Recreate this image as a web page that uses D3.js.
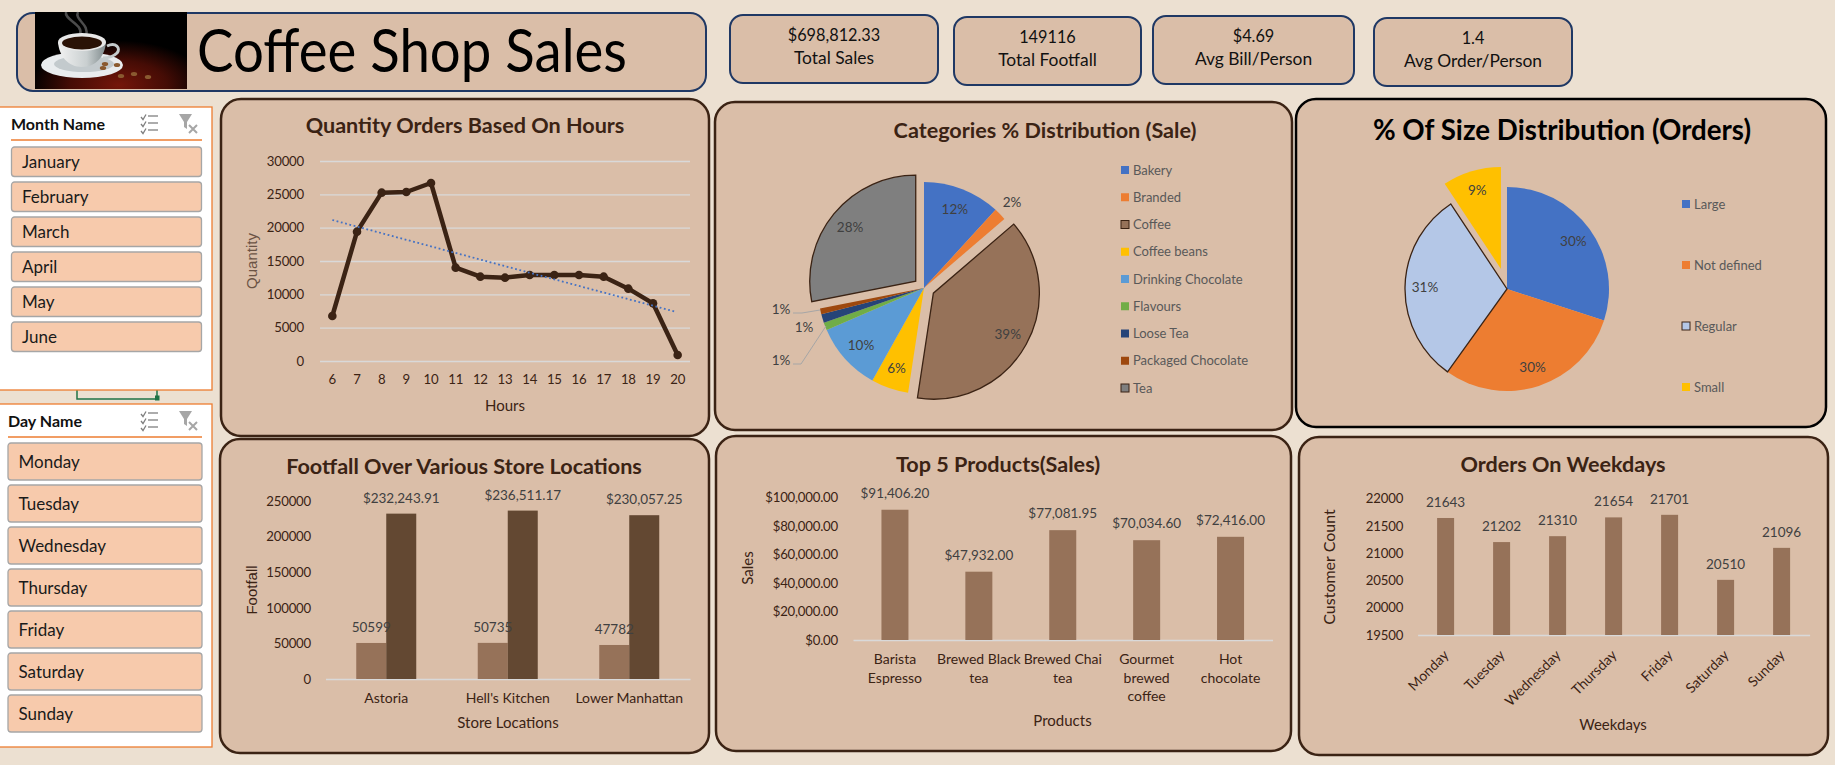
<!DOCTYPE html>
<html>
<head>
<meta charset="utf-8">
<title>Coffee Shop Sales</title>
<script src="https://cdn.jsdelivr.net/npm/d3@7"></script>
<style>
  html, body { margin: 0; padding: 0; background: #ece0d1; }
  svg { display: block; font-family: Lato, "Open Sans", sans-serif; }
  .panel { fill: #dabea8; stroke: #3b2314; stroke-width: 2.5; }
  .kpi { fill: #dabea8; stroke: #1f3864; stroke-width: 2; }
  .axis text { font-size: 14px; fill: #3b2314; font-family: Lato, sans-serif; }
  .axis.num text { font-size: 13.2px; letter-spacing: -0.2px; }
  .axis line, .axis path { stroke: #d9d9d9; stroke-width: 1.3; }
  .title { font-weight: 700; font-size: 21.6px; fill: #3b2314; text-anchor: middle; }
  .axis-title { font-size: 15px; fill: #3b2314; text-anchor: middle; }
  .value { font-size: 13.5px; fill: #404040; text-anchor: middle; }
  .legend { font-size: 13px; fill: #595959; }
</style>
</head>
<body>
<svg id="chart" width="1835" height="765"></svg>
<script>
// kpi strip
var kpiValues = ['$698,812.33', '149116', '$4.69', '1.4'];
var kpiNames = ['Total Sales', 'Total Footfall', 'Avg Bill/Person', 'Avg Order/Person'];

// slicers
var monthNames = ['January', 'February', 'March', 'April', 'May', 'June'];
var dayNames = ['Monday', 'Tuesday', 'Wednesday', 'Thursday', 'Friday', 'Saturday', 'Sunday'];

// quantity by hour
var hours = [6, 7, 8, 9, 10, 11, 12, 13, 14, 15, 16, 17, 18, 19, 20];
var hourQuantity = [6750, 19400, 25250, 25350, 26700, 14000, 12650, 12500, 12900, 12900, 12900, 12650, 10850, 8650, 900];
var trendHours = [6, 19.9];
var trendQuantity = [21150, 7400];
var quantityTicks = [0, 5000, 10000, 15000, 20000, 25000, 30000];

// categories pie
var categoryNames = ['Bakery', 'Branded', 'Coffee', 'Coffee beans', 'Drinking Chocolate', 'Flavours', 'Loose Tea', 'Packaged Chocolate', 'Tea'];
var categoryShare = [11.8, 1.9, 38.7, 5.7, 10.4, 1.2, 1.3, 0.9, 28.1];
var categoryColors = ['#4472c4', '#ed7d31', '#967259', '#ffc000', '#5b9bd5', '#70ad47', '#264478', '#9e480e', '#7f7f7f'];

// size pie
var sizeNames = ['Large', 'Not defined', 'Regular', 'Small'];
var sizeShare = [30.0, 29.9, 30.8, 9.3];
var sizeColors = ['#4472c4', '#ed7d31', '#b4c7e7', '#ffc000'];

// store locations
var storeNames = ['Astoria', "Hell's Kitchen", 'Lower Manhattan'];
var storeFootfall = [50599, 50735, 47782];
var storeSales = [232243.91, 236511.17, 230057.25];
var footfallTicks = [0, 50000, 100000, 150000, 200000, 250000];

// top products
var productNames = ['Barista Espresso', 'Brewed Black tea', 'Brewed Chai tea', 'Gourmet brewed coffee', 'Hot chocolate'];
var productLines = [['Barista', 'Espresso'], ['Brewed Black', 'tea'], ['Brewed Chai', 'tea'], ['Gourmet', 'brewed', 'coffee'], ['Hot', 'chocolate']];
var productSales = [91406.20, 47932.00, 77081.95, 70034.60, 72416.00];
var salesTicks = [0, 20000, 40000, 60000, 80000, 100000];

// weekdays
var weekdayOrders = [21643, 21202, 21310, 21654, 21701, 20510, 21096];
var orderTicks = [19500, 20000, 20500, 21000, 21500, 22000];

var money = d3.format('$,.2f');
var svg = d3.select('#chart');
var BROWN = '#967259', DARK = '#634832', INK = '#3b2314';

function box(x0, y0, x1, y1, cls, r) {
  return svg.append('rect').attr('class', cls)
    .attr('x', x0).attr('y', y0).attr('width', x1 - x0).attr('height', y1 - y0)
    .attr('rx', r).attr('ry', r);
}

function label(g, x, y, text, cls) {
  return g.append('text').attr('class', cls).attr('x', x).attr('y', y).text(text);
}

function vlabel(x, y, text, family) {
  return svg.append('text').attr('class', 'axis-title')
    .attr('transform', 'translate(' + x + ',' + y + ') rotate(-90)')
    .style('font-family', family || null)
    .text(text);
}

// title banner with the cup picture
function banner() {
  box(17, 13, 706, 91, 'kpi', 16);
  var defs = svg.append('defs');
  var glow = defs.append('radialGradient').attr('id', 'glow').attr('cx', 0.55).attr('cy', 0.95).attr('r', 0.58);
  glow.append('stop').attr('offset', '0').attr('stop-color', '#74160a');
  glow.append('stop').attr('offset', '0.55').attr('stop-color', '#450c05');
  glow.append('stop').attr('offset', '1').attr('stop-color', '#000');
  var cupFill = defs.append('linearGradient').attr('id', 'cupFill');
  cupFill.append('stop').attr('offset', '0').attr('stop-color', '#f2f2f2');
  cupFill.append('stop').attr('offset', '0.6').attr('stop-color', '#c9cfd0');
  cupFill.append('stop').attr('offset', '1').attr('stop-color', '#7f8a8c');

  svg.append('rect').attr('x', 35).attr('y', 12).attr('width', 152).attr('height', 77).attr('fill', 'url(#glow)');
  svg.append('path').attr('d', 'M66,12 C64,20 84,24 80,35 M78,12 C74,20 90,24 86,36')
    .attr('fill', 'none').attr('stroke', '#8a8a8a').attr('stroke-width', 2.5).attr('opacity', 0.55);
  svg.append('ellipse').attr('cx', 82).attr('cy', 65).attr('rx', 41).attr('ry', 13).attr('fill', '#e9ecee');
  svg.append('ellipse').attr('cx', 84).attr('cy', 64).attr('rx', 30).attr('ry', 8).attr('fill', '#c3cacd');
  svg.append('path').attr('d', 'M107,46 C116,42 121,48 117,53 C114,56 108,58 103,58')
    .attr('fill', 'none').attr('stroke', '#c5cccd').attr('stroke-width', 3);
  svg.append('path').attr('d', 'M58,42 C59,56 68,67 82,67 C96,67 105,56 106,42 Z').attr('fill', 'url(#cupFill)');
  svg.append('ellipse').attr('cx', 82).attr('cy', 42).attr('rx', 24).attr('ry', 9).attr('fill', '#e8e8e8');
  svg.append('ellipse').attr('cx', 82).attr('cy', 43).attr('rx', 20).attr('ry', 6.5).attr('fill', '#2a1206');
  [[105, 64], [103, 68], [117, 65], [121, 76], [134, 74], [148, 77]].forEach(function(b) {
    svg.append('ellipse').attr('cx', b[0]).attr('cy', b[1]).attr('rx', 3.2).attr('ry', 2).attr('fill', '#8a5a30');
  });

  svg.append('text').attr('x', 197).attr('y', 72)
    .attr('textLength', 430).attr('lengthAdjust', 'spacingAndGlyphs')
    .style('font-size', '60px').style('fill', '#000').text('Coffee Shop Sales');
}

function kpis() {
  var boxes = [[730, 15, 938, 83], [954, 17, 1141, 85], [1153, 16, 1354, 84], [1374, 18, 1572, 86]];
  boxes.forEach(function(b, i) {
    box(b[0], b[1], b[2], b[3], 'kpi', 13);
    var cx = (b[0] + b[2]) / 2;
    svg.append('text').attr('x', cx).attr('y', b[1] + 26).attr('text-anchor', 'middle')
      .style('font-size', '16.3px').style('fill', '#111').text(kpiValues[i]);
    svg.append('text').attr('x', cx).attr('y', b[1] + 49).attr('text-anchor', 'middle')
      .style('font-size', '17.4px').style('fill', '#111').text(kpiNames[i]);
  });
}

function slicer(y0, y1, headX, headBase, ruleY, btnX0, btnX1, btnY, btnH, step, name, items) {
  svg.append('rect').attr('x', -2).attr('y', y0).attr('width', 214).attr('height', y1 - y0)
    .attr('fill', '#fff').attr('stroke', '#ed7d31').attr('stroke-width', 1.3);
  svg.append('text').attr('x', headX).attr('y', headBase)
    .style('font-size', '16px').style('font-weight', 700).style('fill', '#111').text(name);
  svg.append('line').attr('x1', headX).attr('x2', 202).attr('y1', ruleY).attr('y2', ruleY)
    .attr('stroke', '#ed7d31').attr('stroke-width', 1.3);

  // multi-select and clear filter glyphs
  var ic = svg.append('g').attr('transform', 'translate(0,' + (y0 + 7) + ')')
    .attr('fill', 'none').attr('stroke', '#7f7f7f').attr('stroke-width', 1.3);
  [0, 7, 14].forEach(function(d) {
    ic.append('path').attr('d', 'M141,' + (d + 3) + 'l2,2.5l3,-5');
    ic.append('line').attr('x1', 148).attr('x2', 158).attr('y1', d + 2).attr('y2', d + 2);
  });
  ic.append('path').attr('d', 'M179,0h13l-5,8v7l-3,-2v-5z').attr('fill', '#a6a6a6').attr('stroke', 'none');
  ic.append('path').attr('d', 'M189,11l8,8M197,11l-8,8').attr('stroke', '#a6a6a6').attr('stroke-width', 2);

  var rows = svg.append('g').selectAll('g').data(items).join('g')
    .attr('transform', function(d, i) { return 'translate(0,' + (btnY + i * step) + ')'; });
  rows.append('rect').attr('x', btnX0).attr('width', btnX1 - btnX0).attr('height', btnH)
    .attr('rx', 3).attr('fill', '#f7caac').attr('stroke', '#a6a6a6').attr('stroke-width', 1.3);
  rows.append('text').attr('x', btnX0 + 10.5).attr('y', btnH / 2 + 6)
    .style('font-size', '17px').style('fill', '#1a1a1a').text(function(d) { return d; });
}

function hourChart() {
  box(221, 99, 709, 436, 'panel', 20);
  label(svg, 465, 133, 'Quantity Orders Based On Hours', 'title');
  var left = 320, right = 690, top = 161, bottom = 361;
  var x = d3.scaleBand().domain(hours).range([left, right]);
  var y = d3.scaleLinear().domain([0, 30000]).range([bottom, top]);

  var ya = svg.append('g').attr('class', 'axis num').attr('transform', 'translate(' + left + ',0)')
    .call(d3.axisLeft(y).tickValues(quantityTicks).tickFormat(d3.format('d')).tickSize(-(right - left)).tickPadding(16));
  ya.select('.domain').remove();
  var xa = svg.append('g').attr('class', 'axis num').attr('transform', 'translate(0,' + bottom + ')')
    .call(d3.axisBottom(x).tickSize(0).tickPadding(14));
  xa.select('.domain').remove();

  var cx = function(h) { return x(h) + x.bandwidth() / 2; };
  var line = d3.line().x(function(d) { return cx(d[0]); }).y(function(d) { return y(d[1]); });
  svg.append('path').attr('d', line(d3.zip(hours, hourQuantity)))
    .attr('fill', 'none').attr('stroke', INK).attr('stroke-width', 4.5).attr('stroke-linejoin', 'round');
  svg.append('g').selectAll('circle').data(d3.zip(hours, hourQuantity)).join('circle')
    .attr('cx', function(d) { return cx(d[0]); }).attr('cy', function(d) { return y(d[1]); })
    .attr('r', 4.3).attr('fill', INK);

  var tx = d3.scaleLinear().domain([6, 20]).range([cx(6), cx(20)]);
  svg.append('path')
    .attr('d', d3.line().x(function(d) { return tx(d[0]); }).y(function(d) { return y(d[1]); })(d3.zip(trendHours, trendQuantity)))
    .attr('fill', 'none').attr('stroke', '#4472c4').attr('stroke-width', 1.8).attr('stroke-dasharray', '1.8 2.6');

  label(svg, 505, 411, 'Hours', 'axis-title');
  vlabel(257, 261, 'Quantity', 'Liberation Sans').style('fill', '#6b5344');
}

// exploded: slice index -> pull-out distance
function pie(cx, cy, R, shares, colors, exploded, outlined) {
  var arcs = d3.pie().value(function(d) { return d; }).sort(null)(shares);
  var arc = d3.arc().innerRadius(0).outerRadius(R);
  var g = svg.append('g').attr('transform', 'translate(' + cx + ',' + cy + ')');
  var slices = g.selectAll('g').data(arcs).join('g')
    .attr('transform', function(d, i) {
      var off = exploded[i] || 0;
      var a = (d.startAngle + d.endAngle) / 2;
      return 'translate(' + (off * Math.sin(a)) + ',' + (-off * Math.cos(a)) + ')';
    });
  slices.append('path').attr('d', arc)
    .attr('fill', function(d, i) { return colors[i]; })
    .attr('stroke', function(d, i) { return outlined.indexOf(i) >= 0 ? INK : 'none'; })
    .attr('stroke-width', 1.3);
  return { g: g, slices: slices };
}

function categoryChart() {
  box(715, 102, 1292, 430, 'panel', 20);
  label(svg, 1045, 138, 'Categories % Distribution (Sale)', 'title');
  var R = 106;
  var p = pie(924, 288, R, categoryShare, categoryColors, { 2: 10.7, 8: 10.7 }, [2, 8]);
  var inner = d3.arc().innerRadius(85 * 2 - R).outerRadius(R);

  // small slices have their labels placed by hand, as in the sheet
  var outside = { 1: [88, -86], 5: [-143, 72], 6: [-120, 39], 7: [-143, 21] };
  p.slices.filter(function(d, i) { return !outside[i]; }).append('text').attr('class', 'value')
    .attr('transform', function(d) { return 'translate(' + inner.centroid(d) + ')'; })
    .attr('dy', '.35em')
    .text(function(d) { return d3.format('.0f')(d.data) + '%'; });
  p.g.selectAll('.outer').data(d3.pie().sort(null)(categoryShare)).join('text')
    .filter(function(d, i) { return !!outside[i]; })
    .attr('class', 'value outer')
    .attr('x', function(d) { return outside[d.index][0]; })
    .attr('y', function(d) { return outside[d.index][1]; })
    .attr('dy', '.35em')
    .text(function(d) { return Math.round(d.data) + '%'; });
  p.g.append('path').attr('d', 'M-98,38 L-123,76 L-131,76').attr('fill', 'none').attr('stroke', '#a6a6a6');
  p.g.append('path').attr('d', 'M-104,22 L-122,25 L-131,25').attr('fill', 'none').attr('stroke', '#a6a6a6');

  var ly = d3.scalePoint().domain(categoryNames).range([170, 388]);
  var lg = svg.append('g').selectAll('g').data(categoryNames).join('g')
    .attr('transform', function(d) { return 'translate(1121,' + ly(d) + ')'; });
  lg.append('rect').attr('y', -4).attr('width', 8).attr('height', 8)
    .attr('fill', function(d, i) { return categoryColors[i]; })
    .attr('stroke', function(d, i) { return i === 2 || i === 8 ? INK : 'none'; });
  lg.append('text').attr('class', 'legend').attr('x', 12).attr('dy', '.35em').text(function(d) { return d; });
}

function sizeChart() {
  box(1296, 99, 1826, 427, 'panel', 20).style('stroke', '#000');
  label(svg, 1562, 140, '% Of Size Distribution (Orders)', 'title').style('font-size', '27.7px').style('fill', '#000');
  var R = 102;
  var p = pie(1507, 289, R, sizeShare, sizeColors, { 3: 21 }, [2]);
  var inner = d3.arc().innerRadius(82 * 2 - R).outerRadius(R);
  p.slices.append('text').attr('class', 'value')
    .attr('transform', function(d) { return 'translate(' + inner.centroid(d) + ')'; })
    .attr('dy', '.35em')
    .text(function(d) { return Math.round(d.data) + '%'; });

  var ly = d3.scalePoint().domain(sizeNames).range([204, 387]);
  var lg = svg.append('g').selectAll('g').data(sizeNames).join('g')
    .attr('transform', function(d) { return 'translate(1682,' + ly(d) + ')'; });
  lg.append('rect').attr('y', -4).attr('width', 8).attr('height', 8)
    .attr('fill', function(d, i) { return sizeColors[i]; })
    .attr('stroke', function(d, i) { return i === 2 ? INK : 'none'; });
  lg.append('text').attr('class', 'legend').attr('x', 12).attr('dy', '.35em').text(function(d) { return d; });
}

function storeChart() {
  box(220, 439, 709, 753, 'panel', 20);
  label(svg, 464, 474, 'Footfall Over Various Store Locations', 'title');
  var left = 325.5, right = 690, top = 501, bottom = 679;
  var x = d3.scaleBand().domain(storeNames).range([left, right]);
  var y = d3.scaleLinear().domain([0, 250000]).range([bottom, top]);
  var w = 30;

  var ya = svg.append('g').attr('class', 'axis num').attr('transform', 'translate(' + left + ',0)')
    .call(d3.axisLeft(y).tickValues(footfallTicks).tickFormat(d3.format('d')).tickSize(0).tickPadding(14.5));
  ya.select('.domain').remove();
  svg.append('g').attr('class', 'axis').attr('transform', 'translate(0,' + bottom + ')')
    .call(d3.axisBottom(x).tickSize(0).tickSizeOuter(0).tickPadding(14));

  var mid = function(d) { return x(d) + x.bandwidth() / 2; };
  svg.append('g').selectAll('rect').data(storeNames).join('rect')
    .attr('x', function(d) { return mid(d) - w; }).attr('width', w)
    .attr('y', function(d, i) { return y(storeFootfall[i]); })
    .attr('height', function(d, i) { return bottom - y(storeFootfall[i]); })
    .attr('fill', BROWN);
  svg.append('g').selectAll('rect').data(storeNames).join('rect')
    .attr('x', mid).attr('width', w)
    .attr('y', function(d, i) { return y(storeSales[i]); })
    .attr('height', function(d, i) { return bottom - y(storeSales[i]); })
    .attr('fill', DARK);
  svg.append('g').selectAll('text').data(storeNames).join('text').attr('class', 'value')
    .attr('x', function(d) { return mid(d) - w / 2; })
    .attr('y', function(d, i) { return y(storeFootfall[i]) - 11; })
    .text(function(d, i) { return storeFootfall[i]; });
  svg.append('g').selectAll('text').data(storeNames).join('text').attr('class', 'value')
    .attr('x', function(d) { return mid(d) + w / 2; })
    .attr('y', function(d, i) { return y(storeSales[i]) - 11; })
    .text(function(d, i) { return money(storeSales[i]); });

  label(svg, 508, 728, 'Store Locations', 'axis-title');
  vlabel(257, 590, 'Footfall', 'Liberation Sans').style('fill', '#3b2314');
}

function productChart() {
  box(716, 436, 1291, 751, 'panel', 20);
  label(svg, 998, 472, 'Top 5 Products(Sales)', 'title');
  var left = 853, right = 1272.5, top = 497.5, bottom = 640;
  var x = d3.scaleBand().domain(productNames).range([left, right]);
  var y = d3.scaleLinear().domain([0, 100000]).range([bottom, top]);
  var w = 27;

  var ya = svg.append('g').attr('class', 'axis num').attr('transform', 'translate(' + left + ',0)')
    .call(d3.axisLeft(y).tickValues(salesTicks).tickFormat(money).tickSize(0).tickPadding(15));
  ya.select('.domain').remove();
  var xa = svg.append('g').attr('class', 'axis').attr('transform', 'translate(0,' + bottom + ')')
    .call(d3.axisBottom(x).tickSize(0).tickSizeOuter(0).tickPadding(14));
  xa.selectAll('.tick text').each(function(d, i) {
    var t = d3.select(this).text(null);
    productLines[i].forEach(function(s, k) {
      t.append('tspan').attr('x', 0).attr('dy', k ? 18.5 : 0).text(s);
    });
  });
  xa.selectAll('.tick text').attr('dy', null).attr('y', 24);

  var mid = function(d) { return x(d) + x.bandwidth() / 2; };
  svg.append('g').selectAll('rect').data(productNames).join('rect')
    .attr('x', function(d) { return mid(d) - w / 2; }).attr('width', w)
    .attr('y', function(d, i) { return y(productSales[i]); })
    .attr('height', function(d, i) { return bottom - y(productSales[i]); })
    .attr('fill', BROWN);
  svg.append('g').selectAll('text').data(productNames).join('text').attr('class', 'value')
    .attr('x', mid)
    .attr('y', function(d, i) { return y(productSales[i]) - 12; })
    .text(function(d, i) { return money(productSales[i]); });

  label(svg, 1062.5, 726, 'Products', 'axis-title');
  vlabel(753, 568, 'Sales');
}

function weekdayChart() {
  box(1299, 437, 1828, 755, 'panel', 20);
  label(svg, 1563, 472, 'Orders On Weekdays', 'title');
  var left = 1417.6, right = 1809.6, top = 498.5, bottom = 635;
  var x = d3.scaleBand().domain(dayNames).range([left, right]);
  var y = d3.scaleLinear().domain([19500, 22000]).range([bottom, top]);
  var w = 17;

  var ya = svg.append('g').attr('class', 'axis num').attr('transform', 'translate(' + left + ',0)')
    .call(d3.axisLeft(y).tickValues(orderTicks).tickFormat(d3.format('d')).tickSize(0).tickPadding(14.5));
  ya.select('.domain').remove();
  var xa = svg.append('g').attr('class', 'axis').attr('transform', 'translate(0,' + bottom + ')')
    .call(d3.axisBottom(x).tickSize(0).tickSizeOuter(0).tickPadding(12));
  xa.selectAll('.tick text')
    .attr('text-anchor', 'end').attr('dy', null).attr('y', 0).attr('x', 0)
    .attr('transform', 'translate(4,21) rotate(-45)');

  var mid = function(d) { return x(d) + x.bandwidth() / 2; };
  svg.append('g').selectAll('rect').data(dayNames).join('rect')
    .attr('x', function(d) { return mid(d) - w / 2; }).attr('width', w)
    .attr('y', function(d, i) { return y(weekdayOrders[i]); })
    .attr('height', function(d, i) { return bottom - y(weekdayOrders[i]); })
    .attr('fill', BROWN);
  svg.append('g').selectAll('text').data(dayNames).join('text').attr('class', 'value')
    .attr('x', mid)
    .attr('y', function(d, i) { return y(weekdayOrders[i]) - 11; })
    .text(function(d, i) { return weekdayOrders[i]; });

  label(svg, 1613, 730, 'Weekdays', 'axis-title');
  vlabel(1335, 567, 'Customer Count').style('font-size', '16px');
}

banner();
kpis();
// connector left over between the two slicers
svg.append('path').attr('d', 'M77,388 V399 H157 V388').attr('fill', 'none').attr('stroke', '#217346').attr('stroke-width', 1.5);
svg.append('rect').attr('x', 155).attr('y', 395.5).attr('width', 4.5).attr('height', 5).attr('fill', '#217346');
slicer(107, 390, 11, 130, 140, 11.5, 201.5, 147, 29.5, 35, 'Month Name', monthNames);
slicer(404, 747, 8, 427, 437, 8, 202, 443, 37, 42, 'Day Name', dayNames);
hourChart();
categoryChart();
sizeChart();
storeChart();
productChart();
weekdayChart();
</script>
</body>
</html>
